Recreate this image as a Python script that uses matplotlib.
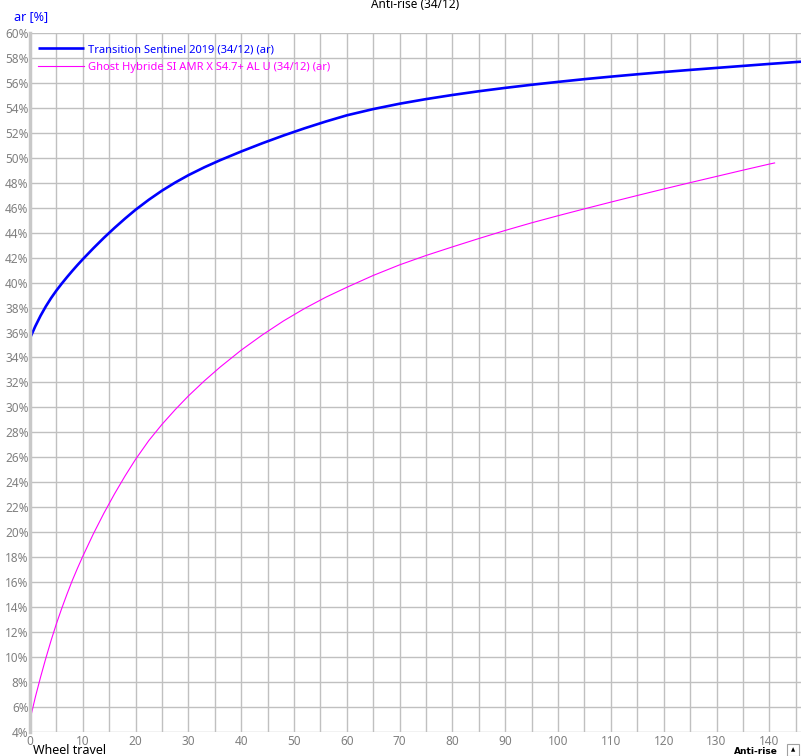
import numpy as np
import matplotlib
matplotlib.use("Agg")
from matplotlib import pyplot as plt
from matplotlib.patches import Rectangle

# wheel travel (mm) and anti-rise (%)
travel_sentinel = [0, 1, 2, 3, 4, 5, 6, 7, 8, 9, 10, 12, 14, 16, 18, 20, 22.5, 25,
                   27.5, 30, 33, 36, 40, 44, 48, 52, 56, 60, 65, 70, 75, 80, 85,
                   90, 95, 100, 105, 110, 115, 120, 125, 130, 135, 140, 146]
ar_sentinel = [35.55, 36.5, 37.35, 38.1, 38.77, 39.37, 39.92, 40.44, 40.94, 41.42,
               41.88, 42.76, 43.6, 44.39, 45.14, 45.85, 46.65, 47.38, 48.03, 48.62,
               49.25, 49.82, 50.52, 51.18, 51.8, 52.38, 52.92, 53.42, 53.92, 54.35,
               54.72, 55.05, 55.35, 55.62, 55.87, 56.1, 56.32, 56.52, 56.71, 56.89,
               57.06, 57.22, 57.38, 57.54, 57.72]

travel_ghost = [0, 1, 2, 3, 4, 5, 6, 7, 8, 9, 10, 12, 14, 16, 18, 20, 22.5, 25,
                27.5, 30, 33, 36, 40, 44, 48, 52, 56, 60, 65, 70, 75, 80, 85, 90,
                95, 100, 105, 110, 115, 120, 125, 130, 135, 140, 141]
ar_ghost = [4.95, 6.75, 8.37, 9.89, 11.32, 12.65, 13.87, 15.02, 16.11, 17.11, 18.06,
            19.86, 21.52, 23.06, 24.5, 25.84, 27.34, 28.64, 29.82, 30.92, 32.12,
            33.23, 34.59, 35.81, 36.93, 37.93, 38.83, 39.63, 40.58, 41.43, 42.18,
            42.87, 43.54, 44.19, 44.8, 45.37, 45.92, 46.46, 46.99, 47.51, 48.02,
            48.52, 49.02, 49.51, 49.6]

label_sentinel = "Transition Sentinel 2019 (34/12) (ar)"
label_ghost = "Ghost Hybride SI AMR X S4.7+ AL U (34/12) (ar)"

plt.rcParams['font.family'] = ['Noto Sans', 'DejaVu Sans']

fig = plt.figure(figsize=(8.06, 7.56), dpi=100)
ax = fig.add_axes([30 / 806, 1 - 732 / 756, 771 / 806, 699 / 756])

ax.plot(travel_sentinel, ar_sentinel, color="#0000ff", lw=1.9, label=label_sentinel,
        solid_capstyle="butt", solid_joinstyle="round")
ax.plot(travel_ghost, ar_ghost, color="#ff00ff", lw=0.8, label=label_ghost,
        solid_joinstyle="round")

ax.set_xlim(0, 146)
ax.set_ylim(3.97, 60.02)
ax.set_xticks(np.arange(0, 146, 5), minor=True)
ax.set_xticks(np.arange(0, 141, 10))
yt = np.arange(4, 61, 2)
ax.set_yticks(yt)
ax.set_yticklabels(["%d%%" % v for v in yt])
ax.grid(True, which="both", color="#c0c0c0", lw=1.0)
ax.set_axisbelow(True)
ax.tick_params(which="both", length=0, labelsize=8.5, colors="#808080", pad=2)
ax.tick_params(axis="y", pad=1)

for s in ["top", "right", "bottom"]:
    ax.spines[s].set_visible(False)
ax.spines["left"].set_color("#c8c8c8")
ax.spines["left"].set_linewidth(2.5)

leg = ax.legend(loc="upper left", frameon=False, fontsize=8, handlelength=4.2,
                handletextpad=0.35, borderaxespad=0.3, labelspacing=0.6,
                bbox_to_anchor=(0.0, 0.995))
for txt, c in zip(leg.get_texts(), ["#0000ff", "#ff00ff"]):
    txt.set_color(c)

fig.text(415 / 806, 1 - 5 / 756, "Anti-rise (34/12)", ha="center", va="center",
         fontsize=8.5, color="black")
fig.text(14 / 806, 1 - 17 / 756, "ar [%]", ha="left", va="center",
         fontsize=9, color="#0000ff")
fig.text(33 / 806, 1 - 750 / 756, "Wheel travel", ha="left", va="center",
         fontsize=9, color="black")
fig.text(778 / 806, 1 - 751 / 756, "Anti-rise", ha="right", va="center",
         fontsize=6.5, fontweight="bold", color="black", family="DejaVu Sans")
fig.patches.append(Rectangle((787 / 806, 1 - 756 / 756), 12 / 806, 12 / 756,
                             transform=fig.transFigure, fill=False,
                             edgecolor="#a0a0a0", lw=0.8))
fig.text(793 / 806, 1 - 750 / 756, "\u25b2", ha="center", va="center",
         fontsize=4, color="black", family="DejaVu Sans")

fig.savefig("out.png", dpi=100)
